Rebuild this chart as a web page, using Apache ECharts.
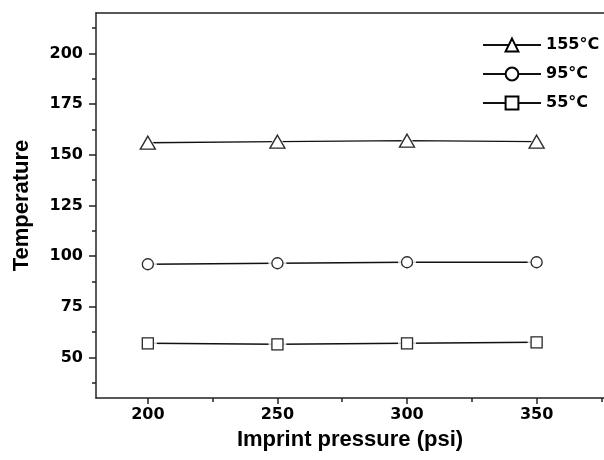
<!DOCTYPE html>
<html>
<head>
<meta charset="utf-8">
<script src="https://cdn.jsdelivr.net/npm/echarts@6/dist/echarts.min.js"></script>
<style>html,body{margin:0;padding:0;background:#fff}#c{width:604px;height:460px}</style>
</head>
<body>
<div id="c"></div>
<script>
const pressures = [200, 250, 300, 350];
const seriesNames = ['155°C', '95°C', '55°C'];
const t155 = [156, 156.5, 157, 156.5];
const t95 = [96, 96.5, 97, 97];
const t55 = [57, 56.5, 57, 57.5];
const xLabelTicks = [200, 250, 300, 350];
const xMinorTicks = [225, 275, 325, 375];
const yLabelTicks = [50, 75, 100, 125, 150, 175, 200];
const yMinorTicks = [37.5, 62.5, 87.5, 112.5, 137.5, 162.5, 187.5, 212.5];

const pairs = v => pressures.map((p, i) => [p, v[i]]);
const symbols = ['triangle', 'circle', 'rect'];
const sizes = [[15, 13], 11, 11];
const values = [t155, t95, t55];
const tickFont = {fontFamily: 'DejaVu Sans', fontWeight: 'bold', fontSize: 16, color: '#000'};
const titleFont = {fontFamily: 'Liberation Sans', fontWeight: 'bold', fontSize: 22, color: '#000'};
const axisLineStyle = {color: '#222', width: 1.5};

const series = [];
values.forEach((v, k) => {
  series.push({
    name: seriesNames[k], type: 'line', data: pairs(v), z: 2,
    symbol: symbols[k], symbolSize: sizes[k],
    lineStyle: {color: '#111', width: 1.4},
    itemStyle: {color: '#fff', borderColor: '#000', borderWidth: 1.3},
    emphasis: {disabled: true}, animation: false
  });
});
values.forEach((v, k) => {
  const s = sizes[k];
  series.push({
    type: 'scatter', data: pairs(v), z: 3, silent: true,
    symbol: symbols[k], symbolSize: Array.isArray(s) ? [s[0] + 7, s[1] + 7] : s + 7,
    itemStyle: {color: '#fff'}, animation: false
  });
  series.push({
    type: 'scatter', data: pairs(v), z: 4, silent: true,
    symbol: symbols[k], symbolSize: s,
    itemStyle: {color: '#fff', borderColor: '#000', borderWidth: 1.3}, animation: false
  });
});

const chart = echarts.init(document.getElementById('c'), null, {renderer: 'canvas'});
chart.setOption({
  backgroundColor: '#fff',
  animation: false,
  grid: {left: 96, top: 13, right: 0, bottom: 62, containLabel: false},
  legend: {
    data: seriesNames, left: 477, top: 32, orient: 'vertical',
    itemWidth: 58, itemHeight: 16, itemGap: 13, selectedMode: false,
    textStyle: {fontFamily: 'DejaVu Sans', fontWeight: 'bold', fontSize: 16, color: '#000', padding: [0, 0, 0, 0]}
  },
  xAxis: [
    {type: 'value', min: 180, max: 376, position: 'bottom',
     name: 'Imprint pressure (psi)', nameLocation: 'middle', nameGap: 31, nameTextStyle: titleFont,
     axisLine: {show: true, onZero: false, lineStyle: axisLineStyle},
     axisTick: {show: true, inside: false, length: 6, customValues: xLabelTicks, lineStyle: axisLineStyle},
     axisLabel: {show: true, margin: 9, customValues: xLabelTicks, ...tickFont},
     splitLine: {show: false}},
    {type: 'value', min: 180, max: 376, position: 'bottom',
     axisLine: {show: false}, axisLabel: {show: false}, splitLine: {show: false},
     axisTick: {show: true, length: 4, customValues: xMinorTicks, lineStyle: axisLineStyle}},
    {type: 'value', min: 180, max: 376, position: 'top',
     axisLine: {show: true, onZero: false, lineStyle: axisLineStyle},
     axisTick: {show: false}, axisLabel: {show: false}, splitLine: {show: false}}
  ],
  yAxis: [
    {type: 'value', min: 30, max: 220, position: 'left',
     name: 'Temperature', nameLocation: 'middle', nameGap: 63, nameRotate: 90, nameTextStyle: titleFont,
     axisLine: {show: true, onZero: false, lineStyle: axisLineStyle},
     axisTick: {show: true, inside: false, length: 7, customValues: yLabelTicks, lineStyle: axisLineStyle},
     axisLabel: {show: true, margin: 13, customValues: yLabelTicks, ...tickFont},
     splitLine: {show: false}},
    {type: 'value', min: 30, max: 220, position: 'left',
     axisLine: {show: false}, axisLabel: {show: false}, splitLine: {show: false},
     axisTick: {show: true, length: 4, customValues: yMinorTicks, lineStyle: axisLineStyle}}
  ],
  series: series
});
</script>
</body>
</html>
